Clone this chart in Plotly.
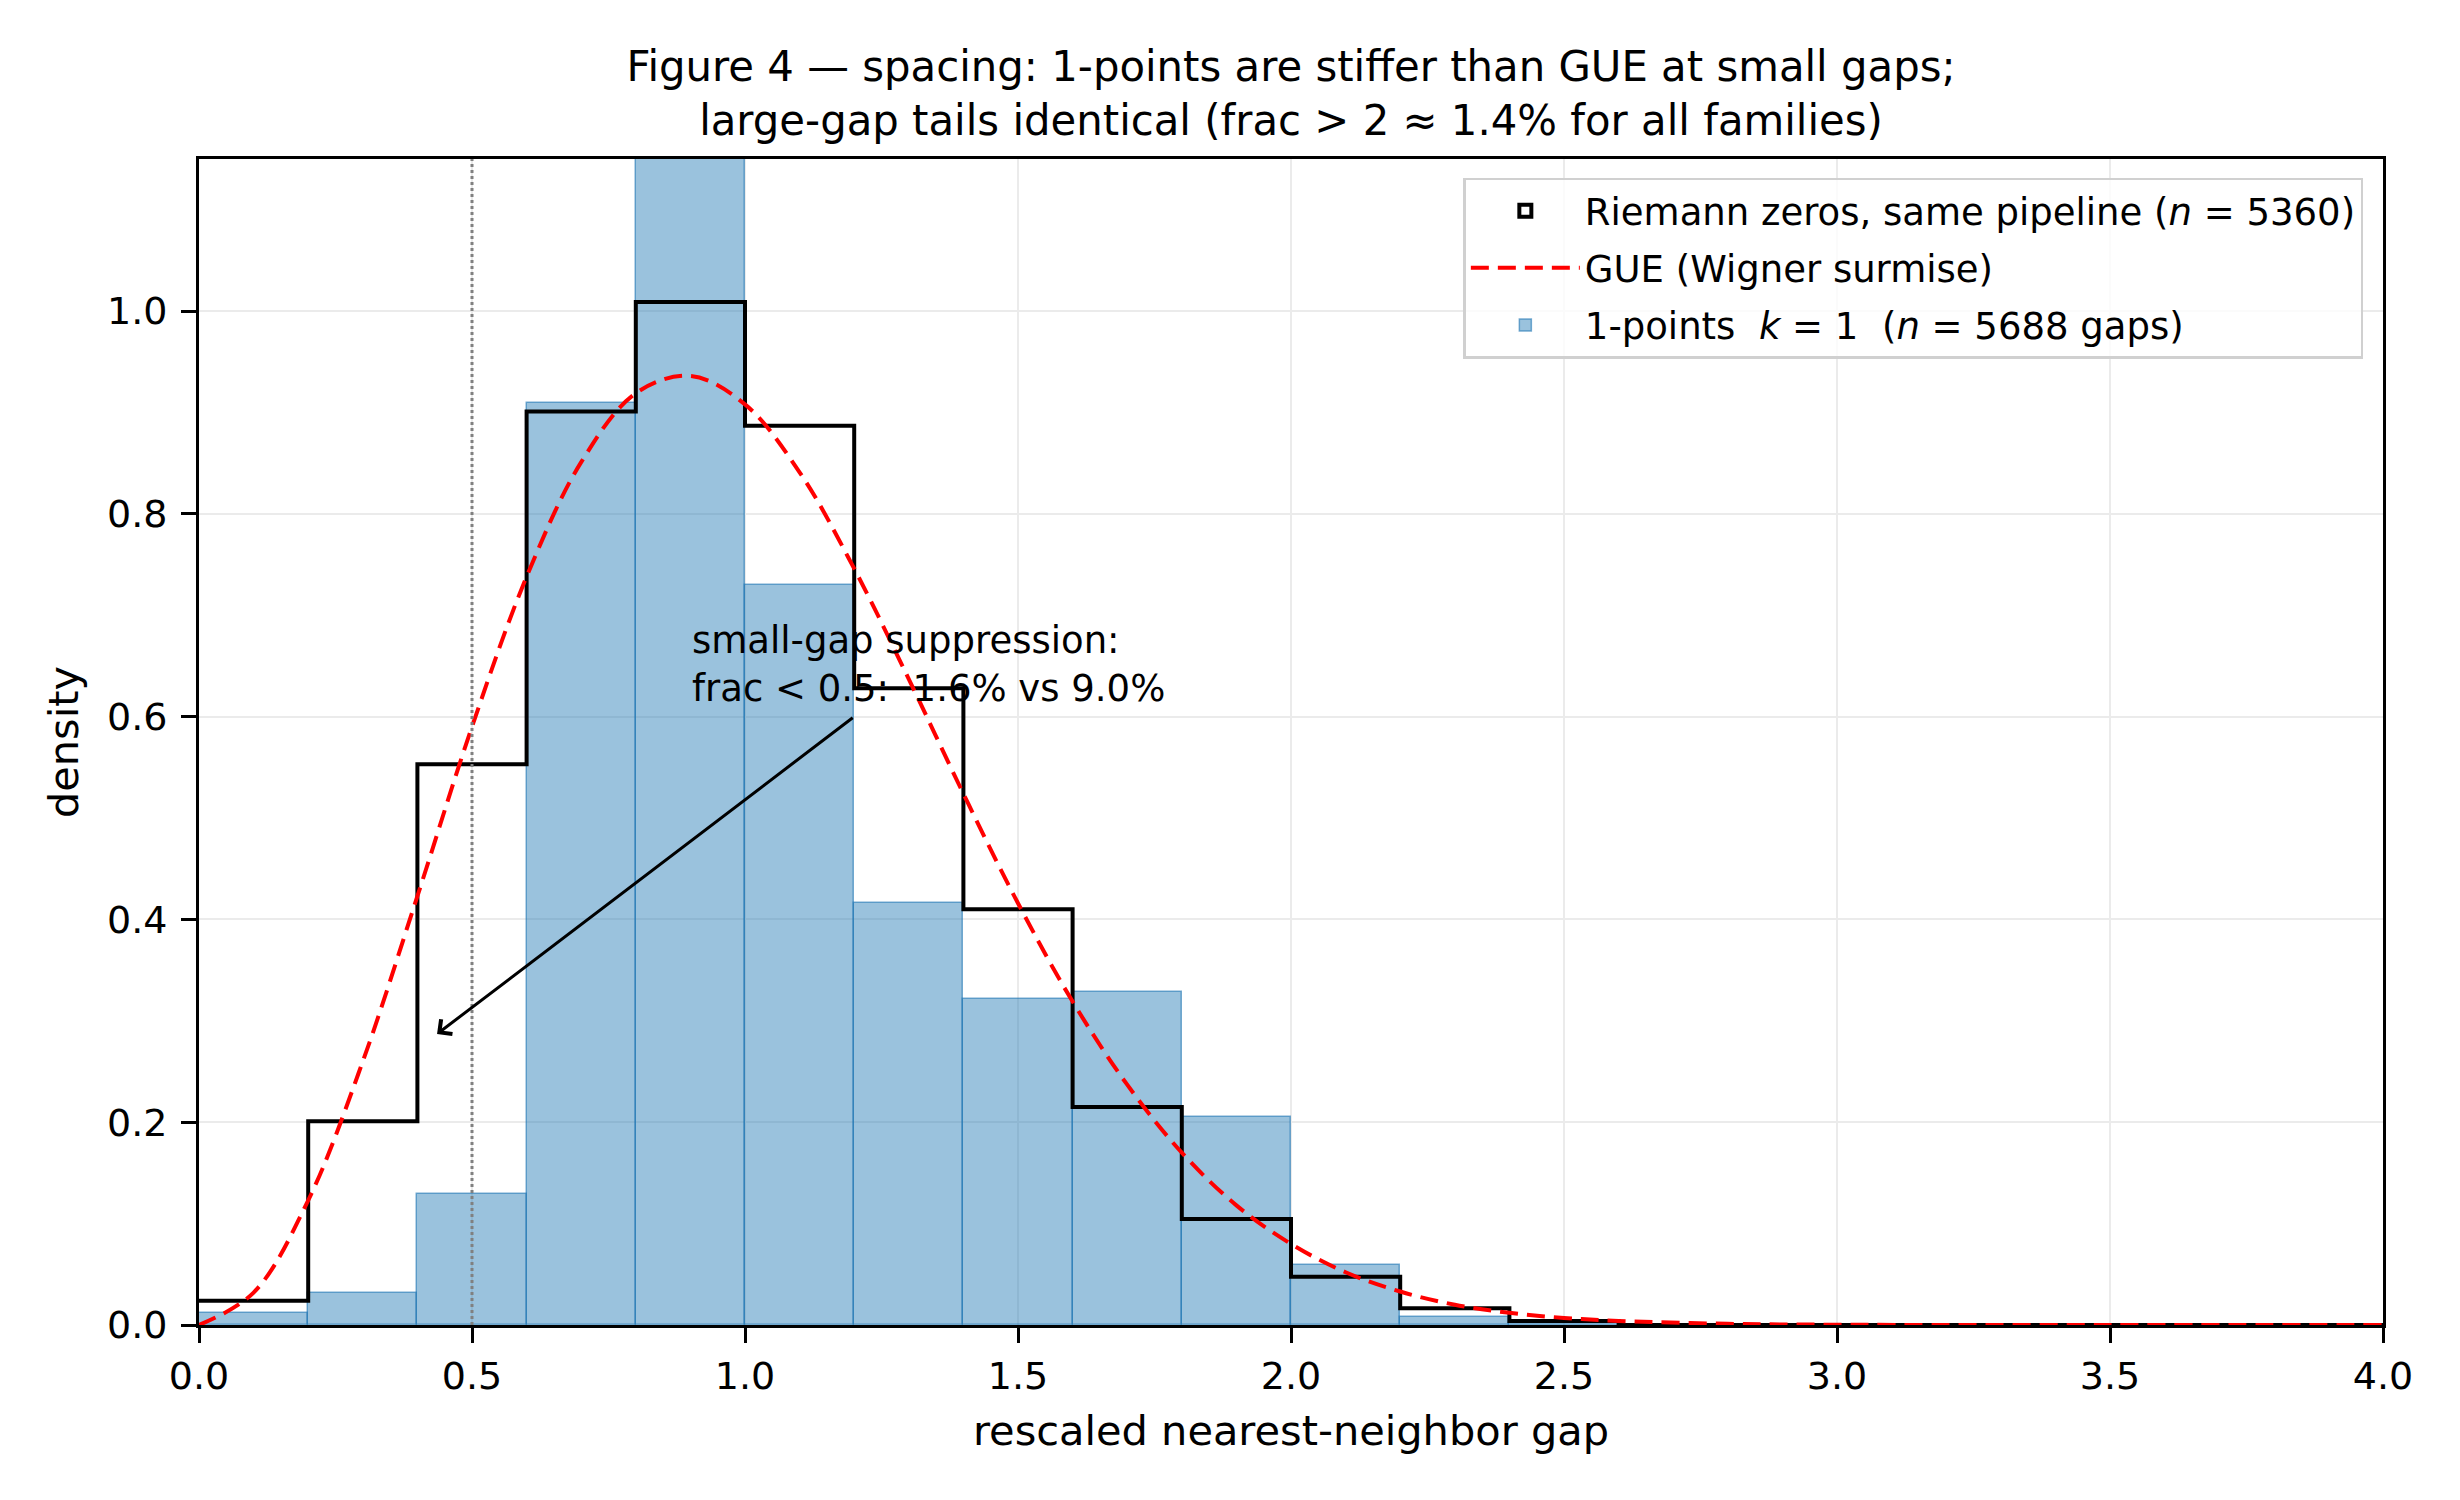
import plotly.graph_objects as go

# histogram bins (width 0.2 from 0 to 4)
bin_edges = [round(0.2 * i, 1) for i in range(21)]
bin_centers = [round(0.1 + 0.2 * i, 1) for i in range(20)]

# 1-points k=1 density per bin
ones_density = [0.012, 0.032, 0.129, 0.909, 1.85, 0.730, 0.416, 0.3215, 0.328, 0.205,
                0.059, 0.008, 0.002, 0.0, 0.0, 0.0, 0.0, 0.0, 0.0, 0.0]

# Riemann zeros density per bin
riemann_density = [0.024, 0.201, 0.553, 0.901, 1.009, 0.887, 0.628, 0.410, 0.215, 0.1045,
                   0.0477, 0.0165, 0.004, 0.0, 0.0, 0.0, 0.0, 0.0, 0.0, 0.0]

# GUE (Wigner surmise) curve
gue_s = [0.0, 0.1, 0.2, 0.3, 0.4, 0.5, 0.6, 0.7, 0.8, 0.9, 1.0, 1.1, 1.2, 1.3, 1.4,
         1.5, 1.6, 1.7, 1.8, 1.9, 2.0, 2.1, 2.2, 2.3, 2.4, 2.5, 2.6, 2.8, 3.0, 3.5, 4.0]
gue_p = [0.0, 0.032, 0.123, 0.260, 0.423, 0.590, 0.738, 0.851, 0.919, 0.936, 0.908,
         0.841, 0.746, 0.637, 0.524, 0.416, 0.319, 0.237, 0.170, 0.118, 0.080, 0.052,
         0.033, 0.020, 0.012, 0.007, 0.004, 0.0012, 0.0003, 0.0, 0.0]

xticks = [0.0, 0.5, 1.0, 1.5, 2.0, 2.5, 3.0, 3.5, 4.0]
yticks = [0.0, 0.2, 0.4, 0.6, 0.8, 1.0]

FONT = "DejaVu Sans"
NB = "\u00a0"

fig = go.Figure()

# legend stand-in for the step outline (matplotlib shows an open box)
fig.add_trace(go.Bar(
    x=[None], y=[None],
    name="Riemann zeros, same pipeline (<i>n</i>" + NB + "=" + NB + "5360)",
    marker=dict(color="white", line=dict(color="black", width=4)),
    legendgroup="a",
))
fig.add_trace(go.Scatter(
    x=bin_edges, y=riemann_density + [riemann_density[-1]],
    mode="lines", line=dict(color="black", width=4, shape="hv"),
    showlegend=False, legendgroup="a",
))
fig.add_trace(go.Scatter(
    x=gue_s, y=gue_p, mode="lines",
    line=dict(color="red", width=4, dash="18px,9px", shape="spline"),
    name="GUE (Wigner surmise)", legendgroup="b",
))
fig.add_trace(go.Bar(
    x=bin_centers, y=ones_density, width=0.2,
    marker=dict(color="rgba(31,119,180,0.45)",
                line=dict(color="rgba(31,119,180,0.6)", width=1.5)),
    name="1-points" + NB + NB + "<i>k</i>" + NB + "=" + NB + "1" + NB + NB
         + "(<i>n</i>" + NB + "=" + NB + "5688 gaps)",
    legendgroup="c",
))

# dotted reference line at 0.5
fig.add_shape(type="line", xref="x", yref="paper", x0=0.5, x1=0.5, y0=0, y1=1,
              line=dict(color="gray", width=3, dash="dot"), layer="above")

# annotation
fig.add_annotation(
    x=0.9, y=0.605, xref="x", yref="y", xanchor="left", yanchor="bottom",
    text="small-gap suppression:<br>frac" + NB + "&lt;" + NB + "0.5:" + NB + NB
         + "1.6% vs 9.0%",
    showarrow=False, align="left", font=dict(family=FONT, size=37, color="black"),
)
fig.add_annotation(
    x=0.436, y=0.287, xref="x", yref="y", ax=1.2, ay=0.6, axref="x", ayref="y",
    text="", showarrow=True, arrowhead=4, arrowsize=1.2, arrowwidth=3,
    arrowcolor="black", standoff=0, startstandoff=0, font=dict(size=1),
)

# page body adds an 8px offset, so the figure is shrunk by that amount
fig.update_layout(
    width=2452, height=1492,
    margin=dict(l=191, r=77, t=151, b=175),
    paper_bgcolor="white", plot_bgcolor="white",
    font=dict(family=FONT, size=38, color="black"),
    barmode="overlay", bargap=0,
    title=dict(
        text="Figure 4 — spacing: 1-points are stiffer than GUE at small gaps;<br>"
             "large-gap tails identical (frac" + NB + ">" + NB + "2" + NB + "≈" + NB
             + "1.4% for all families)",
        x=0.5, xref="paper", xanchor="center",
        y=1, yref="paper", yanchor="bottom", pad=dict(b=78),
        font=dict(family=FONT, size=41.8, color="black"),
    ),
    legend=dict(
        x=0.991, y=0.984, xanchor="right", yanchor="top",
        bgcolor="rgba(255,255,255,0.8)", bordercolor="#d0d0d0", borderwidth=2.5,
        font=dict(family=FONT, size=37, color="black"),
        traceorder="grouped", tracegroupgap=6, itemwidth=109,
    ),
    xaxis=dict(
        range=[0, 4], tickvals=xticks, ticktext=[f"{v:.1f}" for v in xticks],
        showline=True, linecolor="black", linewidth=3, mirror=True,
        ticks="outside", ticklen=15, tickwidth=3, tickcolor="black",
        showgrid=True, gridcolor="#ebebeb", gridwidth=2, zeroline=False,
        title=dict(text="rescaled nearest-neighbor gap", font=dict(size=41.5), standoff=20),
    ),
    yaxis=dict(
        range=[0, 1.15], tickvals=yticks, ticktext=[f"{v:.1f}" for v in yticks],
        showline=True, linecolor="black", linewidth=3, mirror=True,
        ticks="outside", ticklen=15, tickwidth=3, tickcolor="black",
        ticklabelstandoff=6,
        showgrid=True, gridcolor="#ebebeb", gridwidth=2, zeroline=False,
        title=dict(text="density", font=dict(size=41.5), standoff=16),
    ),
)

fig.write_html("out.html")
